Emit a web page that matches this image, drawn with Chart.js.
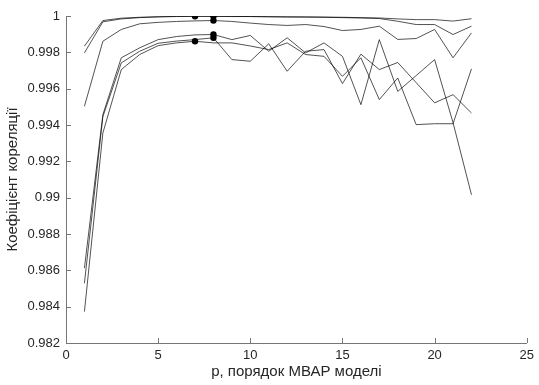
<!DOCTYPE html>
<html>
<head>
<meta charset="utf-8">
<script src="https://cdn.jsdelivr.net/npm/chart.js@4.4.0/dist/chart.umd.min.js"></script>
<style>
  body { margin: 0; background: #fff; }
  #corrChart { display: block; }
</style>
</head>
<body>
<canvas id="corrChart" width="539" height="385"></canvas>
<script>
// model order p
const orders = [1, 2, 3, 4, 5, 6, 7, 8, 9, 10, 11, 12, 13, 14, 15, 16, 17, 18, 19, 20, 21, 22];

// correlation coefficient per model order, one array per curve
const seriesA = [0.99834, 0.99975, 0.99988, 0.99993, 0.99996, 0.99998, 0.99999, 0.99998, 0.99997, 0.99997, 0.99996,
  0.99995, 0.99995, 0.99994, 0.99993, 0.99991, 0.99989, 0.99984, 0.99980, 0.99980, 0.99972, 0.99985];
const seriesB = [0.99797, 0.99968, 0.99984, 0.99991, 0.99995, 0.99997, 0.99998, 0.99999, 0.99998, 0.99997, 0.99996,
  0.99995, 0.99994, 0.99993, 0.99991, 0.99989, 0.99986, 0.99971, 0.99953, 0.99953, 0.99898, 0.99944];
const seriesC = [0.99503, 0.99861, 0.99926, 0.99957, 0.99965, 0.99970, 0.99973, 0.99975, 0.99970, 0.99961, 0.99953,
  0.99948, 0.99953, 0.99942, 0.99920, 0.99926, 0.99944, 0.99871, 0.99876, 0.99926, 0.99770, 0.99907];
const seriesD = [0.98612, 0.99457, 0.99770, 0.99825, 0.99870, 0.99887, 0.99896, 0.99898, 0.99870, 0.99893, 0.99806,
  0.99880, 0.99797, 0.99852, 0.99778, 0.99512, 0.99870, 0.99585, 0.99672, 0.99760, 0.99413, 0.99016];
const seriesE = [0.98529, 0.99446, 0.99742, 0.99806, 0.99850, 0.99862, 0.99870, 0.99880, 0.99760, 0.99751, 0.99847,
  0.99696, 0.99806, 0.99815, 0.99628, 0.99790, 0.99705, 0.99744, 0.99633, 0.99522, 0.99567, 0.99466];
const seriesF = [0.98373, 0.99356, 0.99705, 0.99788, 0.99837, 0.99852, 0.99861, 0.99852, 0.99852, 0.99835, 0.99815,
  0.99852, 0.99788, 0.99778, 0.99668, 0.99770, 0.99540, 0.99659, 0.99402, 0.99407, 0.99407, 0.99709];

const xTicks = [0, 5, 10, 15, 20, 25];
const yTicks = [0.982, 0.984, 0.986, 0.988, 0.99, 0.992, 0.994, 0.996, 0.998, 1];

const allSeries = [seriesA, seriesB, seriesC, seriesD, seriesE, seriesF];

function makeDataset(values) {
  // the best order of each curve gets a black dot
  const best = values.indexOf(Math.max(...values));
  return {
    data: values.map((v, i) => ({ x: orders[i], y: v })),
    borderColor: "rgba(0,0,0,0.68)",
    borderWidth: 1,
    tension: 0,
    pointRadius: (c) => (c.dataIndex === best ? 3.2 : 0),
    pointBackgroundColor: "#000",
    pointBorderColor: "#000",
    pointBorderWidth: 0,
  };
}

// MATLAB style ticks pointing into the plot
const innerTicks = {
  id: "innerTicks",
  afterDraw(chart) {
    const { ctx, scales } = chart;
    const x = scales.x, y = scales.y;
    ctx.save();
    ctx.strokeStyle = "#777";
    ctx.lineWidth = 1;
    ctx.beginPath();
    xTicks.forEach((t) => {
      const px = Math.round(x.getPixelForValue(t)) + 0.5;
      ctx.moveTo(px, y.bottom);
      ctx.lineTo(px, y.bottom - 5);
    });
    yTicks.forEach((t) => {
      const py = Math.round(y.getPixelForValue(t)) + 0.5;
      ctx.moveTo(x.left, py);
      ctx.lineTo(x.left + 5, py);
    });
    ctx.stroke();
    ctx.restore();
  },
};

const tickFont = { family: "'Liberation Sans', Arial, sans-serif", size: 13 };
const titleFont = { family: "'Liberation Sans', Arial, sans-serif", size: 15 };

new Chart(document.getElementById("corrChart"), {
  type: "line",
  data: { datasets: allSeries.map(makeDataset) },
  options: {
    responsive: false,
    animation: false,
    layout: { padding: { left: 0, right: 9, top: 16, bottom: 0 } },
    plugins: { legend: { display: false }, tooltip: { enabled: false } },
    scales: {
      x: {
        type: "linear",
        min: 0,
        max: 25,
        afterBuildTicks: (s) => { s.ticks = xTicks.map((v) => ({ value: v })); },
        afterFit: (s) => { s.height = 42; },
        grid: { display: false, drawTicks: false },
        border: { display: true, color: "#777", width: 1 },
        ticks: { color: "#262626", font: tickFont, padding: 5, maxRotation: 0 },
        title: { display: true, text: "p, порядок МВАР моделі", color: "#262626", font: titleFont, padding: { top: 0, bottom: 4 } },
      },
      y: {
        type: "linear",
        min: 0.982,
        max: 1,
        afterBuildTicks: (s) => { s.ticks = yTicks.map((v) => ({ value: v })); },
        afterFit: (s) => { s.width = 66; },
        grid: { display: false, drawTicks: false },
        border: { display: true, color: "#777", width: 1 },
        ticks: { color: "#262626", font: tickFont, padding: 6, callback: (v) => String(+v.toFixed(3)) },
        title: { display: true, text: "Коефіцієнт кореляції", color: "#262626", font: titleFont, padding: { top: 4, bottom: 0 } },
      },
    },
  },
  plugins: [innerTicks],
});
</script>
</body>
</html>
